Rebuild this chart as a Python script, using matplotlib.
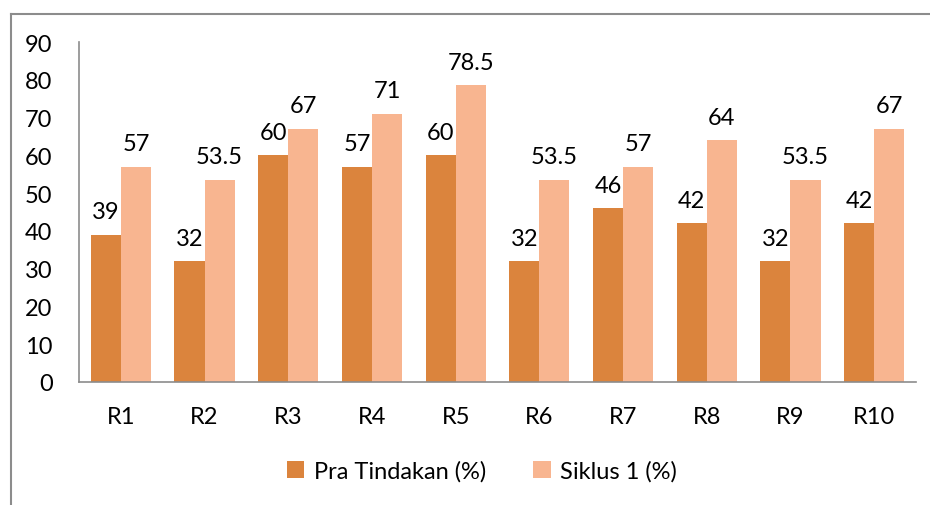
import numpy as np
import matplotlib
matplotlib.use('Agg')
import matplotlib.pyplot as plt
from matplotlib.lines import Line2D

# -- data
categories = ['R1', 'R2', 'R3', 'R4', 'R5', 'R6', 'R7', 'R8', 'R9', 'R10']
pra_tindakan = [39, 32, 60, 57, 60, 32, 46, 42, 32, 42]
siklus_1 = [57, 53.5, 67, 71, 78.5, 53.5, 57, 64, 53.5, 67]
series_names = ['Pra Tindakan (%)', 'Siklus 1 (%)']

plt.rcParams['font.family'] = ['Lato', 'DejaVu Sans']

fig = plt.figure(figsize=(9.30, 5.06), dpi=100)
ax = fig.add_axes([79/930, 1-383/506, (916-79)/930, (383-43)/506])

x = np.arange(len(categories))
w = 0.36
b1 = ax.bar(x - w/2, pra_tindakan, w, color='#DB843D', label=series_names[0])
b2 = ax.bar(x + w/2, siklus_1, w, color='#F8B590', label=series_names[1])

fs = 17
for bars, vals in [(b1, pra_tindakan), (b2, siklus_1)]:
    labels = [('%g' % v) for v in vals]
    ax.bar_label(bars, labels=labels, padding=9, fontsize=fs, color='black')

ax.set_xlim(-0.5, len(categories) - 0.5)
ax.set_ylim(0, 90)
ax.set_yticks(np.arange(0, 91, 10))
ax.set_xticks(x)
ax.set_xticklabels(categories)
ax.tick_params(axis='y', length=0, pad=19, labelsize=fs)
ax.tick_params(axis='x', length=0, pad=17, labelsize=fs)

for s in ['top', 'right']:
    ax.spines[s].set_visible(False)
for s in ['left', 'bottom']:
    ax.spines[s].set_color('#8C8C8C')
    ax.spines[s].set_linewidth(1.2)

ax.legend(loc='center', bbox_to_anchor=(482/930, 1-472/506), bbox_transform=fig.transFigure,
          ncol=2, frameon=False, fontsize=fs, handlelength=0.75, handleheight=0.75,
          handletextpad=0.4, columnspacing=2.0)

# -- outer chart frame (partly cut off)
fx = 10.5/930
fy = 1 - 14.5/506
fig.add_artist(Line2D([fx, fx], [0, fy], transform=fig.transFigure, color='#8C8C8C', lw=1.5))
fig.add_artist(Line2D([fx, 1], [fy, fy], transform=fig.transFigure, color='#8C8C8C', lw=1.5))

plt.savefig('out.png', dpi=100)
plt.close()
